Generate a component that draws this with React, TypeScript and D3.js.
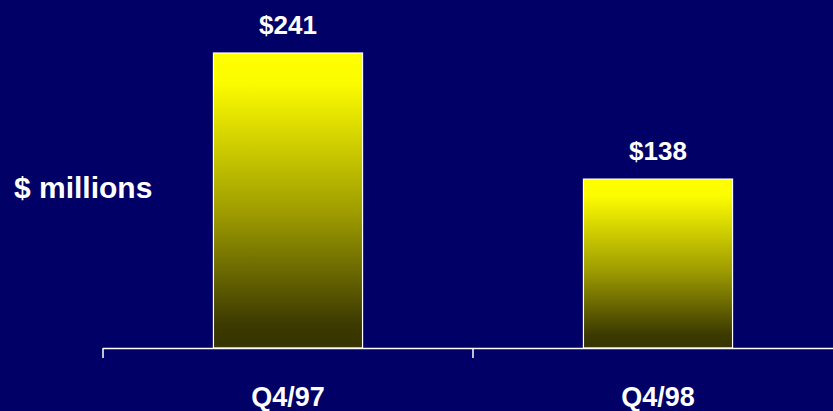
import React, { useEffect } from "react";
import * as d3 from "d3";

const categories = ["Q4/97", "Q4/98"];
const values = [241, 138];
const valueLabels = ["$241", "$138"];
const yAxisLabel = "$ millions";

const W = 833;
const H = 411;

export default function App() {
  useEffect(() => {
    document.body.style.margin = "0";
    document.body.style.background = "#000066";
  }, []);

  const x = d3
    .scaleBand<string>()
    .domain(categories)
    .range([103, 843])
    .paddingInner(0.597)
    .paddingOuter(0.2985);
  const y = d3.scaleLinear().domain([0, 250]).range([348, 42]);

  const font = "'Liberation Sans', Arial, sans-serif";
  const ticks = categories.map((c) => (x(c) as number) - (x.step() - x.bandwidth()) / 2);

  return (
    <svg width={W} height={H} style={{ display: "block", background: "#000066" }}>
      <defs>
        <linearGradient id="barGrad" x1="0" y1="0" x2="0" y2="1">
          <stop offset="0%" stopColor="#ffff00" />
          <stop offset="10%" stopColor="#fcfc00" />
          <stop offset="55%" stopColor="#9c9a00" />
          <stop offset="92%" stopColor="#3c3a00" />
          <stop offset="100%" stopColor="#363400" />
        </linearGradient>
      </defs>
      <rect x={0} y={0} width={W} height={H} fill="#000066" />
      {categories.map((c, i) => (
        <rect
          key={c}
          x={x(c)}
          y={y(values[i])}
          width={x.bandwidth()}
          height={y(0) - y(values[i])}
          fill="url(#barGrad)"
          stroke="#ffffff"
          strokeWidth={1.2}
        />
      ))}
      <line x1={103} x2={W} y1={y(0) + 0.5} y2={y(0) + 0.5} stroke="#ffffff" strokeWidth={1.5} />
      {ticks.map((t, i) => (
        <line key={i} x1={t} x2={t} y1={y(0)} y2={y(0) + 10} stroke="#ffffff" strokeWidth={1.5} />
      ))}
      {categories.map((c, i) => (
        <text
          key={"v" + c}
          x={(x(c) as number) + x.bandwidth() / 2}
          y={y(values[i]) - 19}
          textAnchor="middle"
          fill="#ffffff"
          fontFamily={font}
          fontWeight="bold"
          fontSize={26}
        >
          {valueLabels[i]}
        </text>
      ))}
      {categories.map((c) => (
        <text
          key={"c" + c}
          x={(x(c) as number) + x.bandwidth() / 2}
          y={406}
          textAnchor="middle"
          fill="#ffffff"
          fontFamily={font}
          fontWeight="bold"
          fontSize={27}
        >
          {c}
        </text>
      ))}
      <text x={14} y={198} fill="#ffffff" fontFamily={font} fontWeight="bold" fontSize={30}>
        {yAxisLabel}
      </text>
    </svg>
  );
}
